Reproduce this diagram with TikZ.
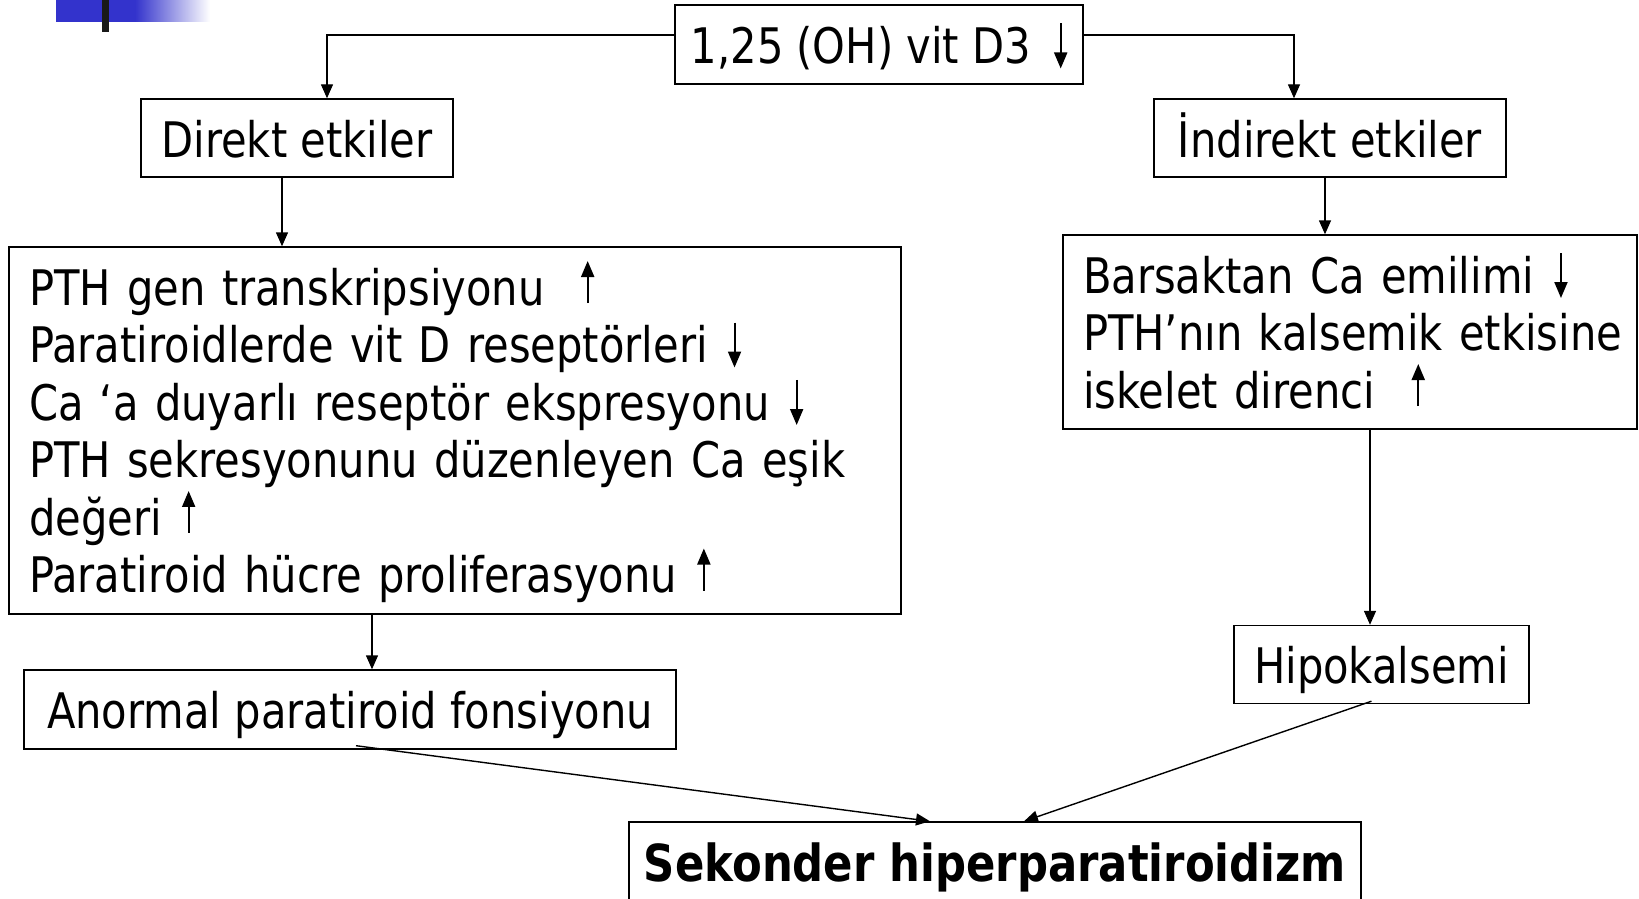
\documentclass[tikz,border=0pt]{standalone}
\usepackage{fontspec}
\setmainfont{DejaVu Sans}[FakeStretch=0.85]
\usetikzlibrary{arrows.meta}
\definecolor{slaytmavi}{RGB}{51,51,204}
\newcommand{\artis}{\hspace{2pt}\smash{\tikz[baseline=0pt]\draw[line width=1pt,-{Triangle[length=8pt,width=6.5pt]}] (0pt,1pt) -- (0pt,22pt);}}
\newcommand{\azalis}{\hspace{2pt}\smash{\tikz[baseline=0pt]\draw[line width=1pt,-{Triangle[length=8pt,width=6.5pt]}] (0pt,20pt) -- (0pt,-2.5pt);}}
\begin{document}
\begin{tikzpicture}[x=0.5pt, y=-0.5pt,
      every node/.style = {shape=rectangle, draw, line width=0.7pt,
        font=\fontsize{24.5pt}{28.75pt}\selectfont, inner sep=0pt,
        text height=19pt, text depth=0pt},
      liste/.style = {align=left, inner xsep=10pt},
      ok/.style = {line width=0.7pt, -{Triangle[length=7pt,width=6pt]}}]
  \useasboundingbox (0,0) rectangle (1639,899);
  \fill[slaytmavi] (56,0) rectangle (136,22);
  \shade[left color=slaytmavi, right color=white] (135,0) rectangle (210,22);
  \fill[black!90] (102,0) rectangle (109,32);
  \node[minimum width=204pt, minimum height=39.5pt] (vitd) at (879,44.5) {1,25 (OH) vit D3 \hspace{3pt}\azalis};
  \node[minimum width=156pt, minimum height=39pt] (direkt) at (297,138) {Direkt etkiler};
  \node[minimum width=176pt, minimum height=39pt] (indirekt) at (1330,138) {İndirekt etkiler};
  \node[liste, text width=426pt, minimum width=446pt, minimum height=183.5pt, text depth=144.5pt] (direktliste) at (455,430.5)
    {PTH gen transkripsiyonu \ \artis\\
     Paratiroidlerde vit D reseptörleri \azalis\\
     Ca ‘a duyarlı reseptör ekspresyonu \azalis\\
     PTH sekresyonunu düzenleyen Ca eşik\\
     değeri \artis\\
     Paratiroid hücre proliferasyonu \artis};
  \node[liste, text width=267pt, minimum width=287pt, minimum height=97pt, text depth=58pt] (indirektliste) at (1350,332)
    {Barsaktan Ca emilimi \azalis\\
     \mbox{PTH’nın kalsemik etkisine}\\
     iskelet direnci \ \artis};
  \node[minimum width=326pt, minimum height=39.5pt] (anormal) at (350,709.5) {Anormal paratiroid fonsiyonu};
  \node[minimum width=147.5pt, minimum height=39pt] (hipo) at (1381.5,664.5) {Hipokalsemi};
  \node[minimum width=366pt, minimum height=40pt, font=\fontsize{25.5pt}{30pt}\selectfont\bfseries] (sekonder) at (995,862) {Sekonder hiperparatiroidizm};
  \draw[ok] ([yshift=4.75pt]vitd.west) -| ([xshift=15pt]direkt.north);
  \draw[ok] ([yshift=4.75pt]vitd.east) -| ([xshift=-18pt]indirekt.north);
  \draw[ok] ([xshift=-7.5pt]direkt.south) -- ([xshift=-7.5pt]direkt.south |- direktliste.north);
  \draw[ok] ([xshift=-2.5pt]indirekt.south) -- ([xshift=-2.5pt]indirekt.south |- indirektliste.north);
  \draw[ok] ([xshift=11pt]anormal.north |- direktliste.south) -- ([xshift=11pt]anormal.north);
  \draw[ok] ([xshift=-5.75pt]hipo.north |- indirektliste.south) -- ([xshift=-5.75pt]hipo.north);
  \draw[ok] ([xshift=3pt,yshift=2pt]anormal.south) -- ([xshift=-32.5pt]sekonder.north);
  \draw[ok] ([xshift=-5pt,yshift=1.5pt]hipo.south) -- ([xshift=14.5pt]sekonder.north);
\end{tikzpicture}
\end{document}
